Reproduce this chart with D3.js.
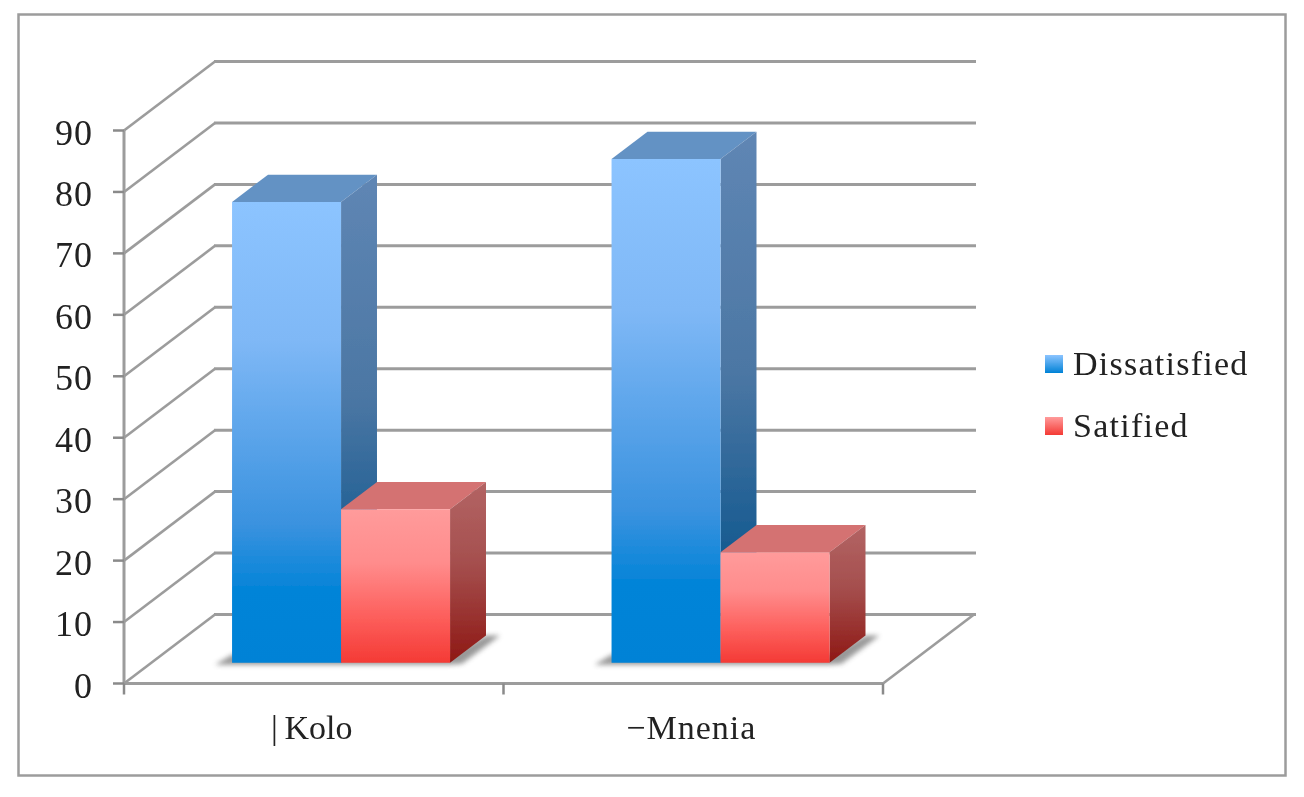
<!DOCTYPE html>
<html><head><meta charset="utf-8">
<script src="https://cdn.jsdelivr.net/npm/d3@7"></script>
<style>html,body{margin:0;padding:0;background:#fff;overflow:hidden}svg{display:block}text{font-family:"Liberation Serif",serif;fill:#222}</style>
</head><body><svg id="c" width="1304" height="797"></svg>
<script>
const categories=["|\u2009Kolo","−Mnenia"];
const seriesNames=["Dissatisfied","Satified"];
const dissatisfied=[75,82];
const satisfied=[25,18];
const yTicks=[0,10,20,30,40,50,60,70,80,90];

const svg=d3.select("#c");
const defs=svg.append("defs");
const x=d3.scaleBand().domain(categories).range([124,883]);
const inner=d3.scaleBand().domain(seriesNames).range([0,218]);
const y=d3.scaleLinear().domain([0,90]).range([683.5,130.5]);
const wallDx=91,wallDy=69;
const P=(px,val,d)=>[px+d*wallDx,y(val)-d*wallDy];
const poly=pts=>pts.map(p=>p.join(",")).join(" ");
const frontD=0.30,backD=0.695;

function grad(id,stops,x2=0,y2=1){
  const g=defs.append("linearGradient").attr("id",id).attr("x1",0).attr("y1",0).attr("x2",x2).attr("y2",y2);
  stops.forEach(s=>g.append("stop").attr("offset",s[0]).attr("stop-color",s[1]));
}
grad("bf",[[0,"#8cc4ff"],[.3,"#7fb8f6"],[.7,"#3a92df"],[.84,"#0484d8"],[1,"#0082d6"]]);
grad("bs",[[0,"#5f86b4"],[.45,"#4c77a4"],[.8,"#155a90"],[1,"#0d5288"]]);
grad("rf",[[0,"#ff9b9b"],[.35,"#ff8c8c"],[.7,"#fd5f5c"],[1,"#f43a35"]]);
grad("rs",[[0,"#b36464"],[.45,"#a54f4e"],[1,"#8e1814"]]);
grad("lb",[[0,"#8cc4ff"],[1,"#0082d6"]]);
grad("lr",[[0,"#ff9b9b"],[1,"#f43a35"]]);
defs.append("filter").attr("id","soft").attr("x","-5%").attr("y","-5%").attr("width","110%").attr("height","110%")
  .append("feGaussianBlur").attr("stdDeviation",0.6);
defs.append("filter").attr("id","sh").attr("x","-20%").attr("y","-20%").attr("width","140%").attr("height","140%")
  .append("feGaussianBlur").attr("stdDeviation",2.6);

const root=svg.append("g").attr("filter","url(#soft)");
root.append("rect").attr("x",18.5).attr("y",14.5).attr("width",1267).attr("height",761).attr("fill","#fff").attr("stroke","#9c9c9c").attr("stroke-width",2.5);

const grid="#9c9c9c";
const [x0,x1]=x.range();
// walls and gridlines
const walls=root.append("g").attr("fill","none").attr("stroke",grid).attr("stroke-width",2.6);
yTicks.forEach(t=>{
  walls.append("line").attr("x1",P(x0,t,0)[0]).attr("y1",P(x0,t,0)[1]).attr("x2",P(x0,t,1)[0]).attr("y2",P(x0,t,1)[1]);
  walls.append("line").attr("x1",P(x0,t,1)[0]-1).attr("y1",P(x0,t,1)[1]).attr("x2",P(x1,t,1)[0]+2).attr("y2",P(x1,t,1)[1]).attr("stroke-width",3);
});
walls.append("line").attr("x1",P(x1,0,1)[0]).attr("y1",P(x1,0,1)[1]).attr("x2",P(x1,0,0)[0]).attr("y2",P(x1,0,0)[1]);
walls.append("line").attr("x1",x1).attr("y1",y(0)).attr("x2",x0).attr("y2",y(0)).attr("stroke-width",3);
walls.append("line").attr("x1",x0).attr("x2",x0).attr("y1",y(90)).attr("y2",y(0)).attr("stroke-width",3);
// ticks
const ticks=root.append("g").attr("stroke","#8a8a8a").attr("stroke-width",2.5);
yTicks.forEach(t=>ticks.append("line").attr("x1",x0-11).attr("x2",x0).attr("y1",y(t)).attr("y2",y(t)));
[x0,x0+x.step(),x1].forEach(v=>ticks.append("line").attr("x1",v).attr("x2",v).attr("y1",y(0)).attr("y2",y(0)+11));
// tick labels
root.append("g").selectAll("text").data(yTicks).join("text")
  .attr("x",93).attr("y",d=>y(d)+14).attr("text-anchor","end").attr("font-size",36).attr("letter-spacing",1).text(d=>d);
root.append("g").selectAll("text").data(categories).join("text")
  .attr("x",d=>x(d)+x.bandwidth()/2-2).attr("y",739).attr("text-anchor","middle").attr("font-size",34).attr("letter-spacing",(d,i)=>i?1:0).text(d=>d);

// bars
const series=[{name:seriesNames[0],vals:dissatisfied,f:"bf",s:"bs",t:"#6492c4"},{name:seriesNames[1],vals:satisfied,f:"rf",s:"rs",t:"#d47272"}];
categories.forEach((c,i)=>{
  const start=x(c)+x.bandwidth()/2-inner.range()[1]/2;
  const bl=start, br=start+inner.range()[1];
  const a=P(bl,0,frontD),b=P(br,0,frontD),e=P(br,0,backD);
  root.append("polygon").attr("points",poly([[a[0]-17,a[1]+2],[a[0],a[1]-8],[b[0],a[1]-8],[e[0],e[1]],[e[0]+14,e[1]],[b[0]+12,b[1]+1],[b[0],b[1]+2],[a[0],a[1]+2]]))
    .attr("fill","#5a5a5a").attr("opacity",.62).attr("filter","url(#sh)");
  series.forEach(s=>{
    const v=s.vals[i], L=start+inner(s.name), R=L+inner.bandwidth();
    const g=root.append("g");
    g.append("polygon").attr("points",poly([P(L,v,frontD),P(L,v,backD),P(R,v,backD),P(R,v,frontD)])).attr("fill",s.t);
    g.append("polygon").attr("points",poly([P(R,v,frontD),P(R,v,backD),P(R,0,backD),P(R,0,frontD)])).attr("fill",`url(#${s.s})`);
    g.append("polygon").attr("points",poly([P(L,v,frontD),P(R,v,frontD),P(R,0,frontD),P(L,0,frontD)])).attr("fill",`url(#${s.f})`);
  });
});

// legend
const leg=d3.scaleOrdinal().domain(seriesNames).range([355,417]);
const lf=d3.scaleOrdinal().domain(seriesNames).range(["lb","lr"]);
seriesNames.forEach(n=>{
  root.append("rect").attr("x",1045).attr("y",leg(n)).attr("width",18).attr("height",18).attr("fill",`url(#${lf(n)})`);
  root.append("text").attr("x",1073).attr("y",leg(n)+20).attr("font-size",34).attr("letter-spacing",1.25).text(n);
});
</script></body></html>
